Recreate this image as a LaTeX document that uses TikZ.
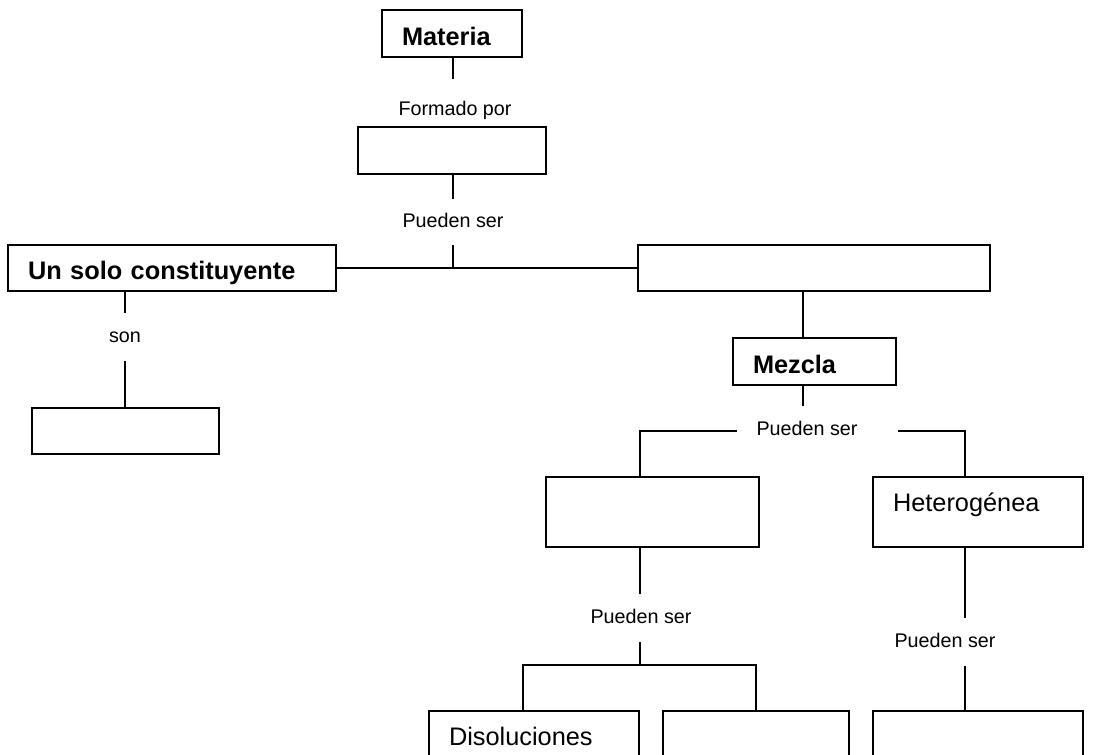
\documentclass[tikz,border=0pt]{standalone}
\usepackage{fontspec}
\setmainfont{Liberation Sans}

\tikzset{
  box/.style={draw, line width=1.2pt, inner xsep=15pt, inner ysep=0pt, align=left,
    text height=21.5pt, text depth=4pt, font=\fontsize{19}{22}\selectfont},
  tallbox/.style={box, inner ysep=12pt, text height=13.5pt, text depth=15pt},
  lbl/.style={inner xsep=0pt, inner ysep=11pt, text height=10.5pt, text depth=3pt,
    font=\fontsize{14.8}{17}\selectfont}
}

\begin{document}
\begin{tikzpicture}[x=0.75pt, y=-0.75pt, line width=1.2pt]

    \useasboundingbox (0,0) rectangle (1104,754);

    % Top
    \node[box, minimum height=35.25pt, text width=75pt] (materia) at (452,33.5) {\bfseries Materia};
    \node[lbl, inner ysep=15.75pt] (fpor) at (455,110) {Formado por};
    \node[box, minimum height=35.25pt, text width=111pt] (sust) at (452,150.5) {};
    \node[lbl, inner ysep=10pt] (p1) at (453,222) {Pueden ser};

    % Left branch
    \node[box, minimum height=34.5pt, text width=216pt] (solo) at (172,268) {\bfseries Un solo constituyente};
    \node[lbl] (son) at (125,337) {son};
    \node[box, minimum height=34.5pt, text width=110.25pt] (elem) at (125.5,431) {};

    % Right branch
    \node[box, minimum height=34.5pt, text width=234pt] (comp) at (814,268) {};
    \node[box, minimum height=35.25pt, text width=92.25pt] (mezcla) at (814.5,361.5) {\bfseries Mezcla};
    \node[lbl, inner ysep=10.5pt, inner xsep=14pt] (p2) at (807,430) {Pueden ser};

    \node[tallbox, text width=129.75pt] (homo) at (652.5,512) {};
    \node[tallbox, text width=127.5pt] (hetero) at (978,512) {Heterogénea};
    \node[lbl] (p3) at (641,618) {Pueden ser};
    \node[lbl] (p4) at (945,642) {Pueden ser};

    % Bottom row
    \node[tallbox, text width=127.5pt] (disol) at (534,746) {Disoluciones};
    \node[tallbox, text width=109.5pt] (bot2) at (756,746) {};
    \node[tallbox, text width=127.5pt] (bot3) at (978,746) {};

    % Branch points
    \coordinate (spine) at (803,431);
    \coordinate (hl) at (640,431);
    \coordinate (hr) at (965,431);
    \coordinate (p2r) at (898,431);
    \coordinate (bl) at (640,665);
    \coordinate (bll) at (523,665);
    \coordinate (blr) at (756,665);
    \coordinate (br) at (965,665);

    % Connectors
    \draw (materia.south -| p1) -- (p1 |- fpor.north);
    \draw (sust.south -| p1) -- (p1.north);
    \draw (p1.south) -- (p1 |- solo);
    \draw (solo) -- (comp);

    \draw (solo.south -| son) -- (son.north);
    \draw (son.south) -- (elem.north -| son);

    \draw (comp.south -| spine) -- (mezcla.north -| spine);
    \draw (mezcla.south -| spine) -- (spine |- p2.north);
    \draw (p2.west |- hl) -- (hl) -- (hl |- homo.north);
    \draw (p2r) -- (hr) -- (hr |- hetero.north);

    \draw (homo.south -| bl) -- (bl |- p3.north);
    \draw (bl |- p3.south) -- (bl);
    \draw (bll |- disol.north) -- (bll) -- (blr) -- (blr |- bot2.north);

    \draw (hetero.south -| br) -- (br |- p4.north);
    \draw (br |- p4.south) -- (bot3.north -| br);

\end{tikzpicture}
\end{document}
